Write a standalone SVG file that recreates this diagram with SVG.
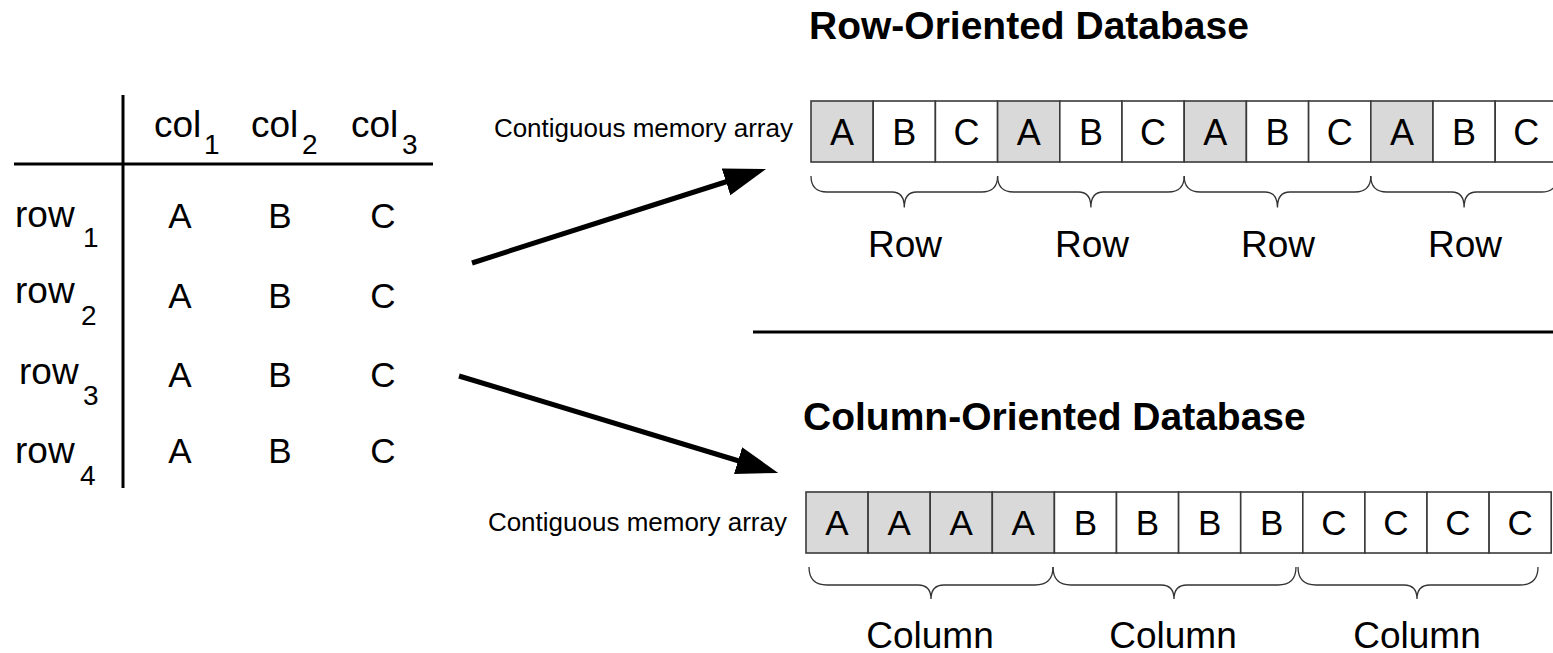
<svg xmlns="http://www.w3.org/2000/svg" width="1553" height="653" viewBox="0 0 1553 653">
<style>
text{font-family:"Liberation Sans",Arial,sans-serif;fill:#000}
.title{font-size:39px;font-weight:bold}
.hdr{font-size:37px}
.sub{font-size:28px}
.val{font-size:35px;text-anchor:middle}
.cl{font-size:36px;text-anchor:middle}
.cc{font-size:35px;text-anchor:middle}
.lbl{font-size:37px;text-anchor:middle}
.mem{font-size:26px;text-anchor:end}
.cell{stroke:#3a3a3a;stroke-width:1.6}
.g{fill:#d9d9d9}
.w{fill:#fff}
.brace{fill:none;stroke:#333;stroke-width:1.3}
.rule{stroke:#000;stroke-width:3;fill:none}
.arrow{stroke:#000;stroke-width:5;fill:none}
</style>
<defs>
<marker id="ah" markerUnits="userSpaceOnUse" markerWidth="44" markerHeight="30" refX="1" refY="14" orient="auto">
<path d="M0,0 L42,14 L0,28 z" fill="#000"/>
</marker>
</defs>
<rect width="1553" height="653" fill="#fff"/>

<g id="table">
<line class="rule" x1="123" y1="95" x2="123" y2="488"/>
<line class="rule" x1="14" y1="164" x2="433" y2="164"/>
<text class="hdr" x="154" y="137">col</text><text class="sub" x="204" y="154">1</text>
<text class="hdr" x="251" y="137">col</text><text class="sub" x="302" y="154">2</text>
<text class="hdr" x="351" y="137">col</text><text class="sub" x="402" y="154">3</text>
<text class="hdr" x="15" y="227">row</text><text class="sub" x="83" y="247">1</text>
<text class="hdr" x="15" y="303">row</text><text class="sub" x="81" y="325">2</text>
<text class="hdr" x="19" y="384">row</text><text class="sub" x="83" y="405">3</text>
<text class="hdr" x="15" y="463">row</text><text class="sub" x="80" y="485">4</text>
<g class="val-rows">
<text class="val" x="180" y="228">A</text><text class="val" x="280" y="228">B</text><text class="val" x="383" y="228">C</text>
<text class="val" x="180" y="308">A</text><text class="val" x="280" y="308">B</text><text class="val" x="383" y="308">C</text>
<text class="val" x="180" y="387">A</text><text class="val" x="280" y="387">B</text><text class="val" x="383" y="387">C</text>
<text class="val" x="180" y="463">A</text><text class="val" x="280" y="463">B</text><text class="val" x="383" y="463">C</text>
</g>
</g>

<g id="connectors">
<line class="arrow" x1="472" y1="263" x2="727" y2="181.5" marker-end="url(#ah)"/>
<line class="arrow" x1="459" y1="376" x2="739" y2="461" marker-end="url(#ah)"/>
<line class="rule" x1="753" y1="332" x2="1553" y2="332"/>
</g>

<g id="row-db">
<text class="title" x="809" y="39">Row-Oriented Database</text>
<text class="mem" x="793" y="137">Contiguous memory array</text>
<g id="row-array">
<rect class="cell g" x="811" y="101" width="62.2" height="61"/>
<rect class="cell w" x="873.2" y="101" width="62.2" height="61"/>
<rect class="cell w" x="935.4" y="101" width="62.2" height="61"/>
<rect class="cell g" x="997.6" y="101" width="62.2" height="61"/>
<rect class="cell w" x="1059.8" y="101" width="62.2" height="61"/>
<rect class="cell w" x="1122" y="101" width="62.2" height="61"/>
<rect class="cell g" x="1184.2" y="101" width="62.2" height="61"/>
<rect class="cell w" x="1246.4" y="101" width="62.2" height="61"/>
<rect class="cell w" x="1308.6" y="101" width="62.2" height="61"/>
<rect class="cell g" x="1370.8" y="101" width="62.2" height="61"/>
<rect class="cell w" x="1433" y="101" width="62.2" height="61"/>
<rect class="cell w" x="1495.2" y="101" width="62.2" height="61"/>
<text class="cl" x="842.1" y="144.5">A</text>
<text class="cl" x="904.3" y="144.5">B</text>
<text class="cl" x="966.5" y="144.5">C</text>
<text class="cl" x="1028.7" y="144.5">A</text>
<text class="cl" x="1090.9" y="144.5">B</text>
<text class="cl" x="1153.1" y="144.5">C</text>
<text class="cl" x="1215.3" y="144.5">A</text>
<text class="cl" x="1277.5" y="144.5">B</text>
<text class="cl" x="1339.7" y="144.5">C</text>
<text class="cl" x="1401.9" y="144.5">A</text>
<text class="cl" x="1464.1" y="144.5">B</text>
<text class="cl" x="1526.3" y="144.5">C</text>
</g>
<g id="row-braces">
<path class="brace" d="M811,176 Q811,192 827,192 L892,192 Q904.3,192 904.3,207.5 Q904.3,192 916.6,192 L981.6,192 Q997.6,192 997.6,176"/>
<path class="brace" d="M997.6,176 Q997.6,192 1013.6,192 L1078.6,192 Q1090.9,192 1090.9,207.5 Q1090.9,192 1103.2,192 L1168.2,192 Q1184.2,192 1184.2,176"/>
<path class="brace" d="M1184.2,176 Q1184.2,192 1200.2,192 L1265.2,192 Q1277.5,192 1277.5,207.5 Q1277.5,192 1289.8,192 L1354.8,192 Q1370.8,192 1370.8,176"/>
<path class="brace" d="M1370.8,176 Q1370.8,192 1386.8,192 L1451.8,192 Q1464.1,192 1464.1,207.5 Q1464.1,192 1476.4,192 L1541.4,192 Q1557.4,192 1557.4,176"/>
</g>
<text class="lbl" x="905" y="257">Row</text>
<text class="lbl" x="1092" y="257">Row</text>
<text class="lbl" x="1278" y="257">Row</text>
<text class="lbl" x="1465" y="257">Row</text>
</g>

<g id="col-db">
<text class="title" x="803" y="430">Column-Oriented Database</text>
<text class="mem" x="787" y="531">Contiguous memory array</text>
<g id="col-array">
<rect class="cell g" x="806" y="492" width="62.1" height="61"/>
<rect class="cell g" x="868.1" y="492" width="62.1" height="61"/>
<rect class="cell g" x="930.2" y="492" width="62.1" height="61"/>
<rect class="cell g" x="992.3" y="492" width="62.1" height="61"/>
<rect class="cell w" x="1054.4" y="492" width="62.1" height="61"/>
<rect class="cell w" x="1116.5" y="492" width="62.1" height="61"/>
<rect class="cell w" x="1178.6" y="492" width="62.1" height="61"/>
<rect class="cell w" x="1240.7" y="492" width="62.1" height="61"/>
<rect class="cell w" x="1302.8" y="492" width="62.1" height="61"/>
<rect class="cell w" x="1364.9" y="492" width="62.1" height="61"/>
<rect class="cell w" x="1427" y="492" width="62.1" height="61"/>
<rect class="cell w" x="1489.1" y="492" width="62.1" height="61"/>
<text class="cc" x="837" y="535">A</text>
<text class="cc" x="899.1" y="535">A</text>
<text class="cc" x="961.2" y="535">A</text>
<text class="cc" x="1023.3" y="535">A</text>
<text class="cc" x="1085.4" y="535">B</text>
<text class="cc" x="1147.5" y="535">B</text>
<text class="cc" x="1209.6" y="535">B</text>
<text class="cc" x="1271.7" y="535">B</text>
<text class="cc" x="1333.8" y="535">C</text>
<text class="cc" x="1395.9" y="535">C</text>
<text class="cc" x="1458" y="535">C</text>
<text class="cc" x="1520.1" y="535">C</text>
</g>
<g id="col-braces">
<path class="brace" d="M809,567 Q809,585 827,585 L918,585 Q931,585 931,599 Q931,585 944,585 L1035,585 Q1053,585 1053,567"/>
<path class="brace" d="M1053,567 Q1053,585 1071,585 L1161,585 Q1174,585 1174,599 Q1174,585 1187,585 L1278,585 Q1296,585 1296,567"/>
<path class="brace" d="M1298,567 Q1298,585 1316,585 L1404,585 Q1417,585 1417,599 Q1417,585 1430,585 L1520,585 Q1538,585 1538,567"/>
</g>
<text class="lbl" x="930" y="648">Column</text>
<text class="lbl" x="1173" y="648">Column</text>
<text class="lbl" x="1417" y="648">Column</text>
</g>
</svg>
